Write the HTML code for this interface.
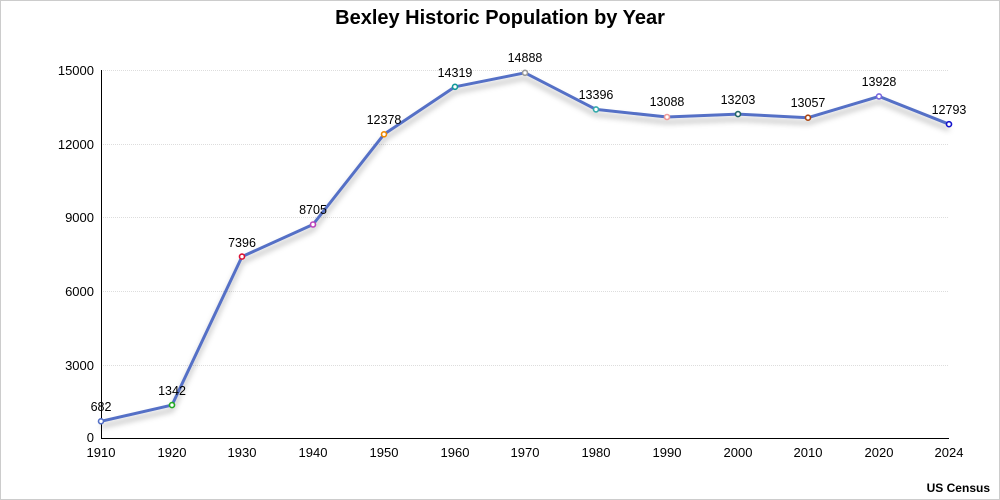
<!DOCTYPE html>
<html><head><meta charset="utf-8"><style>
html,body{margin:0;padding:0;background:#fff}
svg{display:block;font-family:"Liberation Sans","Segoe UI",sans-serif}
</style></head><body>
<svg width="1000" height="500" viewBox="0 0 1000 500">
<defs><filter id="sh" x="-10%" y="-10%" width="120%" height="130%"><feDropShadow dx="0" dy="5" stdDeviation="3" flood-color="#000" flood-opacity="0.3"/></filter></defs>
<rect x="0.5" y="0.5" width="999" height="499" fill="#fff" stroke="#ccc"/>
<text x="500" y="24" text-anchor="middle" font-size="20" font-weight="bold" fill="#000">Bexley Historic Population by Year</text>
<g stroke="#ddd" stroke-dasharray="1,1" stroke-width="1">
<line x1="101" x2="949" y1="70.5" y2="70.5"/>
<line x1="101" x2="949" y1="144.5" y2="144.5"/>
<line x1="101" x2="949" y1="217.5" y2="217.5"/>
<line x1="101" x2="949" y1="291.5" y2="291.5"/>
<line x1="101" x2="949" y1="365.5" y2="365.5"/>
</g>
<line x1="101.5" x2="101.5" y1="70" y2="438" stroke="#000"/>
<line x1="101" x2="949" y1="438.5" y2="438.5" stroke="#000"/>
<g font-size="13" fill="#000" text-anchor="end">
<text x="94" y="75">15000</text><text x="94" y="149">12000</text><text x="94" y="222">9000</text>
<text x="94" y="296">6000</text><text x="94" y="370">3000</text><text x="94" y="442">0</text>
</g>
<g font-size="13" fill="#000" text-anchor="middle">
<text x="101" y="457">1910</text><text x="172" y="457">1920</text><text x="242" y="457">1930</text>
<text x="313" y="457">1940</text><text x="384" y="457">1950</text><text x="455" y="457">1960</text>
<text x="525" y="457">1970</text><text x="596" y="457">1980</text><text x="667" y="457">1990</text>
<text x="738" y="457">2000</text><text x="808" y="457">2010</text><text x="879" y="457">2020</text>
<text x="949" y="457">2024</text>
</g>
<text x="990" y="492" text-anchor="end" font-size="12" font-weight="bold">US Census</text>
<polyline filter="url(#sh)" fill="none" stroke="#5470c6" stroke-width="3" stroke-linejoin="round"
points="101,421.3 172,405.1 242,256.6 313,224.5 384,134.3 455,86.8 525,72.8 596,109.4 667,117 738,114.1 808,117.7 879,96.4 949,124.2"/>
<g fill="#fff" stroke-width="1.6">
<circle cx="101" cy="421.3" r="2.5" stroke="#5470c6"/>
<circle cx="172" cy="405.1" r="2.5" stroke="#22aa22"/>
<circle cx="242" cy="256.6" r="2.5" stroke="#dd1133"/>
<circle cx="313" cy="224.5" r="2.5" stroke="#bb44bb"/>
<circle cx="384" cy="134.3" r="2.5" stroke="#ee8800"/>
<circle cx="455" cy="86.8" r="2.5" stroke="#119999"/>
<circle cx="525" cy="72.8" r="2.5" stroke="#999999"/>
<circle cx="596" cy="109.4" r="2.5" stroke="#33aaaa"/>
<circle cx="667" cy="117" r="2.5" stroke="#ee9999"/>
<circle cx="738" cy="114.1" r="2.5" stroke="#226666"/>
<circle cx="808" cy="117.7" r="2.5" stroke="#aa4411"/>
<circle cx="879" cy="96.4" r="2.5" stroke="#7766dd"/>
<circle cx="949" cy="124.2" r="2.5" stroke="#1111cc"/>
</g>
<g font-size="12.5" fill="#000" text-anchor="middle">
<text x="101" y="411">682</text><text x="172" y="395">1342</text><text x="242" y="247">7396</text>
<text x="313" y="214">8705</text><text x="384" y="124">12378</text><text x="455" y="77">14319</text>
<text x="525" y="62">14888</text><text x="596" y="99">13396</text><text x="667" y="106">13088</text>
<text x="738" y="104">13203</text><text x="808" y="107">13057</text><text x="879" y="86">13928</text>
<text x="949" y="114">12793</text>
</g>
</svg>
</body></html>
